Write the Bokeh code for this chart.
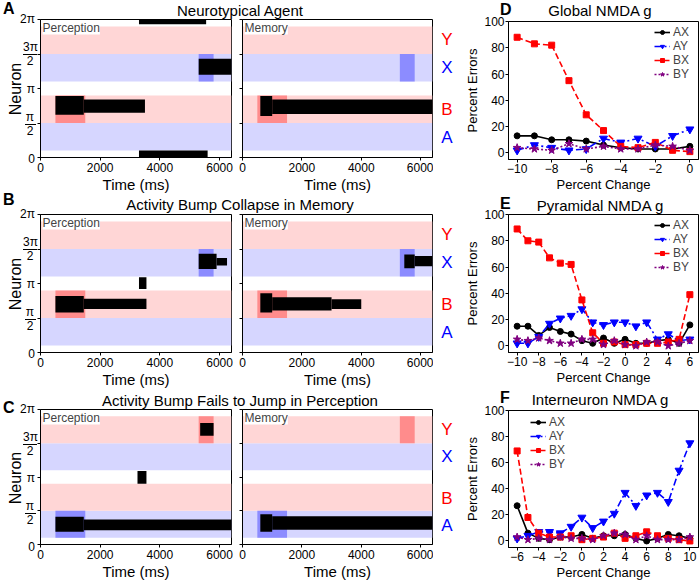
from bokeh.models import Div, Label, Legend, LegendItem, Range1d, FixedTicker
from bokeh.plotting import figure
from bokeh.layouts import row, column
from bokeh.embed import file_html
from bokeh.resources import INLINE

FONT = "Liberation Sans"
CSS_FONT = "font-family:'Liberation Sans',Arial,sans-serif;color:black;"

# ---------------- raster panels (A-C) ----------------
T_MAX = 6400
TIME_TICKS = [0, 2000, 4000, 6000]
NEURON_TICKS = [0, 0.5, 1, 1.5, 2]             # in units of pi
NEURON_MAJOR = [0, 1, 2]
NEURON_MAJOR_LABELS = ["0", "π", "2π"]
NEURON_FRAC_AT = [0.5, 1.5]
NEURON_FRAC_NUM = ["π", "3π"]
NEURON_FRAC_DEN = ["2", "2"]

BAND_NAMES = ["A", "B", "X", "Y"]
BAND_LO = [0.1, 0.5, 1.1, 1.5]
BAND_HI = [0.5, 0.9, 1.5, 1.9]
BAND_FILL = ["#d6d6ff", "#ffd6d6", "#d6d6ff", "#ffd6d6"]
CUE_FILL = ["#8c8cff", "#ff8c8c", "#8c8cff", "#ff8c8c"]
NAME_COLOR = ["#0000ff", "#ff0000", "#0000ff", "#ff0000"]
CUE_START = [500, 5300]
CUE_END = [1500, 5800]

ROW_LETTERS = ["A", "B", "C"]
ROW_TITLES = ["Neurotypical Agent",
              "Activity Bump Collapse in Memory",
              "Activity Bump Fails to Jump in Perception"]
ROW_CUE_BANDS = [["B", "X"], ["B", "X"], ["A", "Y"]]

# dense activity bumps: start/end time (ms), lower/upper neuron (units of pi)
A_PERC_T0 = [500, 1450, 3300, 3300, 5300]
A_PERC_T1 = [1450, 3500, 5600, 5550, 6400]
A_PERC_Y0 = [0.62, 0.65, 0.0, 1.93, 1.20]
A_PERC_Y1 = [0.89, 0.84, 0.10, 2.0, 1.43]

A_MEM_T0 = [600, 1000]
A_MEM_T1 = [1000, 6400]
A_MEM_Y0 = [0.60, 0.63]
A_MEM_Y1 = [0.89, 0.84]

B_PERC_T0 = [500, 1450, 3300, 5300, 5900]
B_PERC_T1 = [1450, 3550, 3550, 5900, 6250]
B_PERC_Y0 = [0.58, 0.63, 0.92, 1.21, 1.26]
B_PERC_Y1 = [0.82, 0.78, 1.09, 1.43, 1.37]

B_MEM_T0 = [600, 1000, 3000, 5450, 5800]
B_MEM_T1 = [1000, 3000, 4000, 5800, 6400]
B_MEM_Y0 = [0.58, 0.61, 0.63, 1.22, 1.25]
B_MEM_Y1 = [0.86, 0.80, 0.77, 1.42, 1.40]

C_PERC_T0 = [500, 1450, 3250, 5350]
C_PERC_T1 = [1450, 6400, 3550, 5800]
C_PERC_Y0 = [0.19, 0.21, 0.90, 1.61]
C_PERC_Y1 = [0.41, 0.37, 1.09, 1.80]

C_MEM_T0 = [600, 1000]
C_MEM_T1 = [1000, 6400]
C_MEM_Y0 = [0.19, 0.22]
C_MEM_Y1 = [0.45, 0.42]

BUMPS = [
    [(A_PERC_T0, A_PERC_T1, A_PERC_Y0, A_PERC_Y1), (A_MEM_T0, A_MEM_T1, A_MEM_Y0, A_MEM_Y1)],
    [(B_PERC_T0, B_PERC_T1, B_PERC_Y0, B_PERC_Y1), (B_MEM_T0, B_MEM_T1, B_MEM_Y0, B_MEM_Y1)],
    [(C_PERC_T0, C_PERC_T1, C_PERC_Y0, C_PERC_Y1), (C_MEM_T0, C_MEM_T1, C_MEM_Y0, C_MEM_Y1)],
]

# ---------------- error panels (D-F) ----------------
D_X = [-10, -9, -8, -7, -6, -5, -4, -3, -2, -1, 0]
D_AX = [13, 13, 10, 10, 9, 6, 4, 3, 3, 3, 5]
D_AY = [2, 6, 4, 2, 3, 11, 8, 11, 5, 13, 18]
D_BX = [88, 83, 82, 55, 29, 17, 5, 4, 8, 2, 1]
D_BY = [4, 3, 2, 7, 3, 5, 3, 3, 6, 5, 2]

E_X = [-10, -9, -8, -7, -6, -5, -4, -3, -2, -1, 0, 1, 2, 3, 4, 5, 6]
E_AX = [15, 15, 8, 14, 11, 9, 4, 2, 6, 2, 5, 2, 2, 4, 5, 2, 16]
E_AY = [2, 2, 7, 17, 21, 23, 28, 18, 16, 18, 18, 15, 18, 5, 9, 4, 5]
E_BX = [89, 80, 79, 67, 63, 62, 35, 10, 2, 3, 1, 1, 2, 2, 3, 5, 39]
E_BY = [5, 4, 6, 4, 2, 2, 5, 5, 1, 4, 1, 0, 3, 3, 0, 2, 4]

F_X = [-6, -5, -4, -3, -2, -1, 0, 1, 2, 3, 4, 5, 6, 7, 8, 9, 10]
F_AX = [27, 6, 2, 1, 3, 3, 5, 2, 4, 4, 5, 2, 0, 2, 5, 4, 2]
F_AY = [2, 4, 7, 7, 6, 11, 18, 10, 15, 21, 37, 27, 35, 37, 30, 54, 75]
F_BX = [69, 18, 6, 3, 3, 4, 1, 2, 3, 6, 2, 4, 7, 4, 2, 1, 0]
F_BY = [3, 1, 2, 1, 3, 2, 2, 1, 4, 6, 5, 1, 4, 1, 1, 1, 3]

ERR_TICKS_D = [-10, -8, -6, -4, -2, 0]
ERR_TICKS_E = [-10, -8, -6, -4, -2, 0, 2, 4, 6]
ERR_TICKS_F = [-6, -4, -2, 0, 2, 4, 6, 8, 10]
ERR_Y_TICKS = [0, 20, 40, 60, 80, 100]
ERR_TITLES = ["Global NMDA g", "Pyramidal NMDA g", "Interneuron NMDA g"]
ERR_LETTERS = ["D", "E", "F"]
SERIES_NAMES = ["AX", "AY", "BX", "BY"]
SERIES_COLORS = ["#000000", "#0000ff", "#ff0000", "#800080"]
SERIES_DASH = ["solid", "7 3 2 3", "6 3", "2 2"]
SERIES_MARKER = ["circle", "inverted_triangle", "square", "star"]
SERIES_SIZE = [6, 8, 6, 8]

# ---------------- layout constants (pixels) ----------------
PAGE_H = 582
GUTTER_W = 36
LETTERS_W = 29
MID_W = 397
L_DIV_H = [11, 11, 11]
L_TITLE_TOP = [1, 0, 1]
L_LETTER_Y = [0, 191, 399]        # page y of the bold panel letters A-C
L_FIG_H = [184, 184, 181]
L_FIG_TOP = 8
L_FIG_BOTTOM = [36, 36, 35]


def minus(v):
    return ("−" + str(-v)) if v < 0 else str(v)


def style_axes(p, tick_px="12px"):
    for ax in list(p.xaxis) + list(p.yaxis):
        ax.major_tick_out = 3
        ax.major_tick_in = 0
        ax.minor_tick_out = 3
        ax.minor_tick_in = 0
        ax.minor_tick_line_color = "black"
        ax.axis_line_color = "black"
        ax.major_tick_line_color = "black"
        ax.major_label_text_font = FONT
        ax.major_label_text_font_size = tick_px
        ax.major_label_text_color = "black"
        ax.major_label_standoff = 2
        ax.axis_label_text_font = FONT
        ax.axis_label_text_font_style = "normal"
        ax.axis_label_text_color = "black"
        ax.axis_label_standoff = 1
    p.xgrid.visible = False
    p.ygrid.visible = False


def raster(r, which, width, height, top, bottom, mbl, mbr):
    p = figure(width=width, height=height, x_range=Range1d(0, T_MAX), y_range=Range1d(0, 2),
               output_backend="svg", toolbar_location=None,
               min_border_left=mbl, min_border_right=mbr, min_border_top=top, min_border_bottom=bottom,
               border_fill_color=None, outline_line_color="black", outline_line_width=1)
    p.quad(left=0, right=T_MAX, bottom=BAND_LO, top=BAND_HI, fill_color=BAND_FILL, line_color=None)
    for k, band in enumerate(ROW_CUE_BANDS[r]):
        i = BAND_NAMES.index(band)
        p.quad(left=[CUE_START[k]], right=[CUE_END[k]], bottom=[BAND_LO[i]], top=[BAND_HI[i]],
               fill_color=CUE_FILL[i], line_color=None)
    t0, t1, y0, y1 = BUMPS[r][which]
    p.quad(left=t0, right=t1, bottom=y0, top=y1, fill_color="black", line_color=None)
    p.xaxis.ticker = TIME_TICKS
    p.xaxis.axis_label = "Time (ms)"
    style_axes(p)
    p.xaxis.axis_label_text_font_size = "15px"
    # y ticks only (their labels are set in the left gutter)
    p.yaxis.ticker = FixedTicker(ticks=[], minor_ticks=NEURON_TICKS)
    p.yaxis.major_label_standoff = 0
    p.add_layout(Label(x=0, y=2, x_offset=2, y_offset=-1, text="Perception" if which == 0 else "Memory",
                       text_align="left", text_baseline="top", text_font=FONT, text_font_size="12px",
                       background_fill_color="white"))
    return p


def err_panel(xs, series, ticks, xlim, height, top, bottom, legend_loc):
    p = figure(width=238, height=height, x_range=Range1d(*xlim), y_range=Range1d(-5, 100),
               output_backend="svg", toolbar_location=None,
               min_border_left=41, min_border_right=2, min_border_top=top, min_border_bottom=bottom,
               border_fill_color=None, outline_line_color="black", outline_line_width=1)
    items = []
    for k, ys in enumerate(series):
        ln = p.line(xs, ys, line_color=SERIES_COLORS[k], line_width=1.6, line_dash=SERIES_DASH[k])
        sc = p.scatter(xs, ys, marker=SERIES_MARKER[k], size=SERIES_SIZE[k],
                       fill_color=SERIES_COLORS[k], line_color=SERIES_COLORS[k])
        items.append(LegendItem(label=SERIES_NAMES[k], renderers=[ln, sc]))
    leg = Legend(items=items, location=legend_loc, border_line_color=None, background_fill_alpha=0,
                 label_text_font=FONT, label_text_font_size="12px",
                 label_height=10, glyph_height=10,
                 glyph_width=16, spacing=0, padding=2, margin=0, label_standoff=3)
    p.add_layout(leg)
    p.xaxis.ticker = ticks
    p.xaxis.major_label_overrides = {t: minus(t) for t in ticks}
    p.yaxis.ticker = ERR_Y_TICKS
    p.xaxis.axis_label = "Percent Change"
    p.yaxis.axis_label = "Percent Errors"
    style_axes(p)
    p.yaxis.major_label_standoff = 1
    p.xaxis.major_label_standoff = 1
    p.xaxis.axis_label_text_font_size = "13px"
    p.yaxis.axis_label_text_font_size = "13px"
    return p


def title_div(letter, title, width, height, letter_left, letter_top, title_center, title_w, title_top):
    parts = ['<div style="position:relative;width:%dpx;height:%dpx;%s">' % (width, height, CSS_FONT)]
    if letter:
        parts.append('<span style="position:absolute;left:%dpx;top:%dpx;font-size:16px;font-weight:bold;'
                     'line-height:18px;">%s</span>' % (letter_left, letter_top, letter))
    parts.append('<span style="position:absolute;left:%dpx;width:%dpx;text-align:center;top:%dpx;'
                 'font-size:15px;line-height:18px;white-space:nowrap;">%s</span>'
                 % (title_center - title_w // 2, title_w, title_top, title))
    parts.append('</div>')
    return Div(text="".join(parts), width=width, height=height, margin=0)


# frame positions (page y) of each raster row
frame_top, frame_h = [], []
y = 0
for r in range(3):
    y += L_DIV_H[r]
    frame_top.append(y + L_FIG_TOP)
    frame_h.append(L_FIG_H[r] - L_FIG_TOP - L_FIG_BOTTOM[r])
    y += L_FIG_H[r]


def neuron_y(r, v):
    return frame_top[r] + (2 - v) / 2 * frame_h[r]


# left gutter: panel letters, "Neuron" labels and pi tick labels (HTML text)
g = ['<div style="position:relative;width:%dpx;height:%dpx;%s">' % (GUTTER_W, PAGE_H, CSS_FONT)]
for r in range(3):
    g.append('<span style="position:absolute;left:3px;top:%dpx;font-size:16px;font-weight:bold;'
             'line-height:18px;">%s</span>' % (L_LETTER_Y[r], ROW_LETTERS[r]))
    mid = frame_top[r] + frame_h[r] / 2
    g.append('<span style="position:absolute;left:%.1fpx;top:%.1fpx;width:70px;height:18px;'
             'line-height:18px;text-align:center;font-size:16px;transform:rotate(-90deg);">Neuron</span>'
             % (16 - 35, mid - 9))
    for v, lab in zip(NEURON_MAJOR, NEURON_MAJOR_LABELS):
        g.append('<span style="position:absolute;right:1px;top:%.1fpx;font-size:12px;line-height:14px;'
                 'white-space:nowrap;">%s</span>' % (neuron_y(r, v) - 7, lab))
    for v, num, den in zip(NEURON_FRAC_AT, NEURON_FRAC_NUM, NEURON_FRAC_DEN):
        w = 14 if len(num) > 1 else 11
        g.append('<div style="position:absolute;left:%.1fpx;top:%.1fpx;width:%dpx;font-size:12px;'
                 'line-height:13px;text-align:center;"><div>%s</div>'
                 '<div style="border-top:1px solid black;">%s</div></div>'
                 % (30 - w / 2, neuron_y(r, v) - 13, w, num, den))
g.append('</div>')
gutter_div = Div(text="".join(g), width=GUTTER_W, height=PAGE_H, margin=0)

# right-hand stimulus letters of the memory rasters
s = ['<div style="position:relative;width:%dpx;height:%dpx;%s">' % (LETTERS_W, PAGE_H, CSS_FONT)]
for r in range(3):
    for i, nm in enumerate(BAND_NAMES):
        yc = neuron_y(r, (BAND_LO[i] + BAND_HI[i]) / 2)
        s.append('<span style="position:absolute;left:0;width:%dpx;text-align:center;top:%.1fpx;'
                 'font-size:17px;line-height:20px;color:%s;">%s</span>'
                 % (LETTERS_W - 1, yc - 10, NAME_COLOR[i], nm))
s.append('</div>')
letters_div = Div(text="".join(s), width=LETTERS_W, height=PAGE_H, margin=0)

# middle: titles and raster pairs
mid_items = []
for r in range(3):
    h, b = L_FIG_H[r], L_FIG_BOTTOM[r]
    mid_items.append(title_div("", ROW_TITLES[r], MID_W, L_DIV_H[r], 0, 0,
                               240 - GUTTER_W, 360, L_TITLE_TOP[r]))
    mid_items.append(row(raster(r, 0, 200, h, L_FIG_TOP, b, 4, 5),
                         raster(r, 1, 197, h, L_FIG_TOP, b, 6, 1), spacing=0))
mid_col = column(*mid_items, spacing=0)

# right column
err_series = [(D_X, [D_AX, D_AY, D_BX, D_BY], ERR_TICKS_D, (-10.5, 0.5), (146, 78)),
              (E_X, [E_AX, E_AY, E_BX, E_BY], ERR_TICKS_E, (-10.8, 6.8), (146, 78)),
              (F_X, [F_AX, F_AY, F_BX, F_BY], ERR_TICKS_F, (-6.8, 10.8), (22, 76))]
R_DIV_H = [12, 11, 13]
R_LETTER_TOP = [1, 0, 2]
R_TITLE_TOP = [2, 2, 4]
R_FIG_H = [182, 182, 182]
R_FIG_TOP = [9, 9, 10]
R_FIG_BOTTOM = [33, 33, 33]
right_items = []
for i in range(3):
    xs, ser, ticks, xlim, loc = err_series[i]
    right_items.append(title_div(ERR_LETTERS[i], ERR_TITLES[i], 238, R_DIV_H[i], 38, R_LETTER_TOP[i],
                                 138, 180, R_TITLE_TOP[i]))
    right_items.append(err_panel(xs, ser, ticks, xlim, R_FIG_H[i], R_FIG_TOP[i], R_FIG_BOTTOM[i], loc))
right_col = column(*right_items, spacing=0)

layout = row(gutter_div, mid_col, letters_div, right_col, spacing=0)
open("out.html", "w").write(file_html(layout, INLINE))
